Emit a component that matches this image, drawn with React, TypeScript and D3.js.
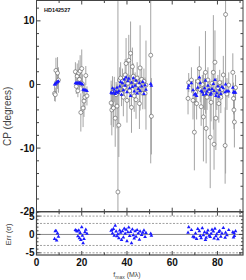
import React from "react";
import * as d3 from "d3";

// ---- data ----
const baseline: number[] = [
  8.0, 8.3, 8.6, 8.9, 9.3, 9.7,
  17.2, 17.6, 18.0, 18.3, 18.7, 19.0, 19.3, 19.6, 20.0, 20.3, 20.6, 21.0, 21.4, 21.8, 22.3,
  33.0, 33.3, 33.6, 34.0, 34.4, 34.8, 35.2, 35.6, 36.0, 36.4, 36.8, 37.2, 37.6, 38.0, 38.4, 38.8,
  39.2, 39.6, 40.0, 40.4, 40.8, 41.2, 41.6, 42.0, 42.4, 42.8, 43.2, 43.6, 44.0, 44.5, 45.0, 45.5,
  45.8, 46.5, 47.0, 47.5, 48.0, 48.4, 50.5, 50.8,
  67.0, 67.3, 68.5, 69.2, 69.8, 70.3, 70.8, 71.3, 72.0, 72.4, 72.8, 73.3, 73.8, 74.3, 74.7, 75.0,
  75.4, 75.8, 76.3, 76.8, 77.2, 77.6, 78.2, 78.5, 78.9, 79.3, 79.7, 80.2, 80.6, 81.0, 81.5, 82.0,
  82.6, 83.4, 83.6, 84.2, 85.0, 86.8, 87.1, 87.3, 87.5, 88.0,
];
const cpData: number[] = [
  -1.4, -1.6, 2.2, 0.3, 1.8, 0.7,
  2.0, -0.3, 1.3, -1.0, 1.8, 0.8, 2.1, -4.4, 2.5, 0.1, -3.7, -2.6, -2.0, 1.4, -1.8,
  -2.9, -4.0, -1.2, -3.7, -0.8, -5.3, -1.6, -3.4, -16.9, -6.4, 0.7, 1.0, -1.4, 0.5, -2.0, -0.5,
  1.5, 3.3, -2.5, 0.2, 3.8, -1.0, 4.9, -3.6, 2.8, 1.3, -1.8, 0.4, -2.4, 1.0, -0.1, -3.0,
  2.6, 0.8, -1.4, 0.5, -1.4, -0.1, 4.6, -5.0,
  -2.2, 0.3, 0.7, -2.5, -7.5, -1.2, -3.0, 0.5, 2.5, -0.8, -3.5, 0.0, -5.1, -1.5, 1.9, -6.9,
  -2.0, 0.7, -1.0, -8.3, -2.8, 0.2, 1.9, -9.4, 3.5, -5.3, -1.5, -0.5, -3.0, 0.3, -2.0, -0.8,
  1.5, -9.6, 11.0, -1.5, -0.1, 1.9, -2.2, -4.0, -5.9, -0.5,
];
const cpErr: number[] = [
  1.2, 1.1, 2.0, 1.5, 2.5, 2.0,
  1.5, 1.2, 2.0, 1.0, 2.0, 1.5, 2.5, 3.0, 3.0, 1.5, 3.0, 2.5, 2.0, 1.5, 1.5,
  3.5, 4.0, 2.5, 3.0, 2.0, 4.5, 2.0, 3.5, 30, 5.0, 2.0, 2.5, 2.0, 2.0, 3.0, 1.5,
  2.5, 4.0, 3.5, 1.5, 4.0, 2.5, 5.0, 4.0, 3.0, 2.0, 2.5, 1.5, 3.0, 2.5, 1.5, 4.0,
  6.7, 2.0, 2.5, 2.0, 2.5, 7.0, 17.0, 6.0,
  2.5, 1.5, 2.0, 3.0, 6.0, 2.0, 2.5, 2.0, 3.5, 2.0, 3.0, 1.5, 7.0, 2.5, 6.5, 5.5,
  2.0, 2.0, 1.5, 8.0, 3.0, 2.0, 9.0, 4.0, 5.0, 5.0, 2.5, 2.0, 3.0, 2.0, 2.5, 1.5,
  3.0, 6.0, 25.0, 2.5, 2.0, 3.0, 2.5, 3.0, 4.0, 2.0,
];
const cpModel: number[] = [
  0.0, 0.0, 0.2, 0.3, 0.4, 0.5,
  0.2, 0.2, 0.2, 0.2, 0.2, 0.2, 0.2, 0.1, 0.1, 0.0, -0.8, -0.9, -0.9, -0.9, -1.0,
  -1.3, -1.4, -0.6, -1.3, -0.8, -1.5, -1.2, -0.5, -1.3, -1.0, -0.3, 0.4, -1.6, 0.2, -0.9, 0.8,
  -0.2, 1.1, -1.2, 0.5, 0.9, -0.6, -1.8, 0.3, -0.4, 1.0, -1.1, -0.2, 0.6, -1.4, -0.7, 0.2,
  -1.0, -0.3, 0.4, -1.5, -0.1, -0.8, 0.1, -0.2,
  -0.6, -0.2, 0.2, -0.9, -1.6, -1.5, -1.8, -0.5, 1.1, 0.2, -1.0, -1.2, -1.6, -0.6, 0.6, -1.5,
  -1.1, -0.2, -0.8, -1.6, -1.4, -0.7, 0.1, -1.0, 0.7, -1.8, -1.4, -0.3, -1.9, -0.9, -1.5, -0.4,
  -0.6, -1.2, 0.0, -1.0, -1.1, -0.5, -1.2, -1.3, -1.2, -1.3,
];
// normalised residuals (data - model) / sigma, as plotted in the lower panel
const resid: number[] = [
  -1.2, 0.9, 1.0, -1.6, 0.3, -0.6,
  1.2, 1.0, 0.8, -0.5, 1.1, -1.0, 0.4, -1.5, 2.0, -0.3, -2.4, -1.2, 0.6, 1.3, 0.2,
  1.0, 1.2, 0.3, 1.5, -0.3, 2.4, 0.8, -0.5, 0.1, -1.0, 1.1, 0.5, -1.5, 0.9, -0.8, 1.6,
  0.2, 1.3, -1.8, 0.6, 1.9, -0.4, 0.7, -2.4, 1.4, -0.2, -1.1, 0.9, -0.6, 1.2, 0.3, -1.4,
  0.8, -0.1, 0.5, 1.1, -0.7, 0.4, 0.2, -0.3,
  0.5, 2.0, 1.2, -0.6, -0.8, 0.3, -1.2, 1.5, 0.9, -0.4, -1.0, 1.7, -0.2, 0.6, -1.5, -0.9,
  0.4, 1.1, -0.3, -0.7, 0.2, 1.3, 0.8, -1.1, 1.6, -0.5, 0.1, -1.3, 0.7, 1.0, -0.6, 0.3,
  1.8, -0.9, 0.5, -0.2, 1.2, 0.6, -0.8, 0.4, -0.4, 0.9,
];
const xTicks = [0, 20, 40, 60, 80];
const yMainTicks = [10, 0, -10, -20];
const yResTicks = [5, 0, -5];
const resLimits = [5, 3, -3, -5];

export default function App() {
  const W = 246, H = 280;
  const L = 36.5, R = 243;
  const x = d3.scaleLinear().domain([0, 91.3]).range([L, R]);
  const yM = d3.scaleLinear().domain([-20, 13.2]).range([211.7, 0.5]);
  const yR = d3.scaleLinear().domain([-5.6, 6.2]).range([255, 211.7]);
  const tri = d3.symbol().type(d3.symbolTriangle).size(6)() as string;
  const pts = baseline.map((t, i) => ({ t, cp: cpData[i], e: cpErr[i], m: cpModel[i], r: resid[i] }));
  const axisCol = "#444";
  const font = "Liberation Sans, Arial, sans-serif";
  const xMinor = d3.range(0, 92, 10);
  const yMinor = d3.range(-20, 13.2, 2);
  const yRMinor = d3.range(-5, 6.2, 1);
  const [t0, t1] = [yM.range()[1], yM.range()[0]];
  return (
    <svg width={W} height={H} style={{ position: "absolute", left: 0, top: 0, background: "#fff" }}
      fontFamily={font}>
      <defs>
        <clipPath id="cm"><rect x={L} y={t0} width={R - L} height={t1 - t0} /></clipPath>
        <clipPath id="cr"><rect x={L} y={211.7} width={R - L} height={255 - 211.7} /></clipPath>
      </defs>
      <g clipPath="url(#cm)">
        {pts.map((p, i) => (
          <line key={"e" + i} x1={x(p.t)} x2={x(p.t)} y1={yM(p.cp + p.e)} y2={yM(p.cp - p.e)}
            stroke="#a4a4a4" strokeWidth={1} />
        ))}
        {pts.map((p, i) => (
          <circle key={"c" + i} cx={x(p.t)} cy={yM(p.cp)} r={2} fill="#fff" stroke="#555" strokeWidth={0.6} />
        ))}
        {pts.map((p, i) => (
          <path key={"m" + i} d={tri} transform={`translate(${x(p.t)},${yM(p.m)})`} fill="#1a1aff" />
        ))}
      </g>
      <line x1={L} x2={R} y1={yR(0)} y2={yR(0)} stroke="#888" strokeWidth={1} />
      {resLimits.map((v) => (
        <line key={"d" + v} x1={L} x2={R} y1={yR(v)} y2={yR(v)} stroke="#888" strokeWidth={0.8}
          strokeDasharray="2,1.5" />
      ))}
      <g clipPath="url(#cr)">
        {pts.map((p, i) => (
          <path key={"r" + i} d={tri} transform={`translate(${x(p.t)},${yR(p.r)})`} fill="#1a1aff" />
        ))}
      </g>
      <rect x={L} y={t0} width={R - L} height={t1 - t0} fill="none" stroke={axisCol} strokeWidth={1} />
      <rect x={L} y={211.7} width={R - L} height={255 - 211.7} fill="none" stroke={axisCol} strokeWidth={1.2} />
      {[t0, 211.7].map((top, k) => (
        <g key={"xt" + k}>
          {xMinor.map((v) => {
            const big = v % 20 === 0;
            const len = big ? 4 : 2.5;
            const bot = k === 0 ? 211.7 : 255;
            return (
              <g key={v}>
                <line x1={x(v)} x2={x(v)} y1={top} y2={top + len} stroke={axisCol} />
                <line x1={x(v)} x2={x(v)} y1={bot} y2={bot - len} stroke={axisCol} />
              </g>
            );
          })}
        </g>
      ))}
      {yMinor.map((v) => {
        const big = Math.round(v) % 10 === 0;
        const len = big ? 4 : 2.5;
        return (
          <g key={"ym" + v}>
            <line x1={L} x2={L + len} y1={yM(v)} y2={yM(v)} stroke={axisCol} />
            <line x1={R} x2={R - len} y1={yM(v)} y2={yM(v)} stroke={axisCol} />
          </g>
        );
      })}
      {yRMinor.map((v) => {
        const big = Math.round(v) % 5 === 0;
        const len = big ? 4 : 2;
        return (
          <g key={"yr" + v}>
            <line x1={L} x2={L + len} y1={yR(v)} y2={yR(v)} stroke={axisCol} />
            <line x1={R} x2={R - len} y1={yR(v)} y2={yR(v)} stroke={axisCol} />
          </g>
        );
      })}
      {yMainTicks.map((v) => (
        <text key={"yl" + v} x={L - 2} y={yM(v) + 3.5} textAnchor="end" fontSize={10} fontWeight="bold" fill="#111">
          {v}
        </text>
      ))}
      {yResTicks.map((v) => (
        <text key={"rl" + v} x={L - 2} y={yR(v) + 3.5} textAnchor="end" fontSize={10} fontWeight="bold" fill="#111">
          {v}
        </text>
      ))}
      {xTicks.map((v) => (
        <text key={"xl" + v} x={x(v)} y={266} textAnchor="middle" fontSize={10} fontWeight="bold" fill="#111">
          {v}
        </text>
      ))}
      <text x={44} y={12} fontSize={5.5} fontWeight="bold" fill="#111">HD142527</text>
      <text transform={`translate(11,${yM(-5)}) rotate(-90)`} textAnchor="middle" fontSize={10} fill="#444">
        CP (degrees)
      </text>
      <text transform={`translate(11,${yR(0)}) rotate(-90)`} textAnchor="middle" fontSize={7.5} fill="#444">
        Err (σ)
      </text>
      <text x={x(40)} y={277} textAnchor="middle" fontSize={7} fill="#444">
        f<tspan fontSize={5} dy={1.5}>max</tspan><tspan dy={-1.5}> (Mλ)</tspan>
      </text>
    </svg>
  );
}
